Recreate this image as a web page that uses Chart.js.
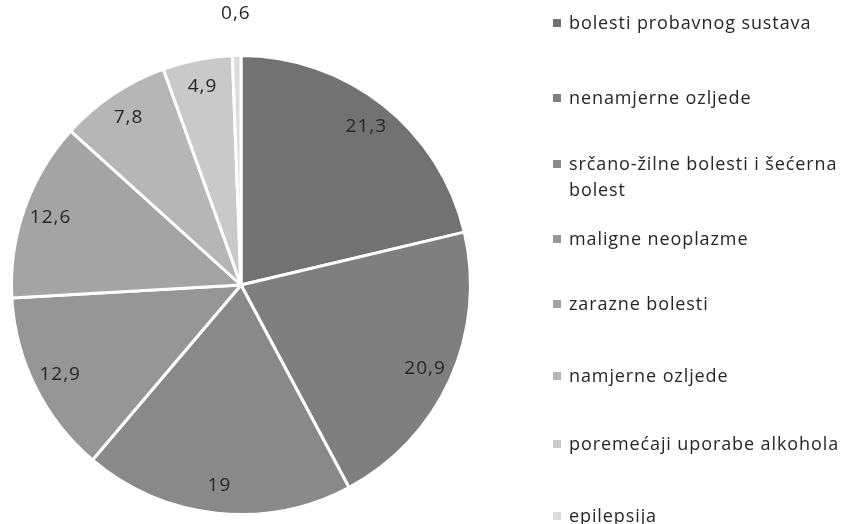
<!DOCTYPE html>
<html>
<head>
<meta charset="utf-8">
<script src="https://cdn.jsdelivr.net/npm/chart.js@4/dist/chart.umd.min.js"></script>
<style>
  html, body { margin: 0; padding: 0; background: #ffffff; }
  #wrap { position: relative; width: 846px; height: 524px; }
  #c { position: absolute; left: 0; top: 0; }
  #legend { position: absolute; left: 553px; top: 0; width: 293px; font-family: "Open Sans", sans-serif; font-size: 18px; letter-spacing: 0.9px; color: #262626; }
  .item { position: absolute; left: 0; display: flex; align-items: flex-start; line-height: 26px; }
  .sw { width: 8px; height: 8px; margin-top: 10px; margin-right: 8px; flex: 0 0 8px; }
</style>
</head>
<body>
<div id="wrap">
  <canvas id="c" width="846" height="524"></canvas>
  <div id="legend"></div>
</div>
<script>
const categories = [
  "bolesti probavnog sustava",
  "nenamjerne ozljede",
  "srčano-žilne bolesti i šećerna bolest",
  "maligne neoplazme",
  "zarazne bolesti",
  "namjerne ozljede",
  "poremećaji uporabe alkohola",
  "epilepsija"
];
const values = [21.3, 20.9, 19, 12.9, 12.6, 7.8, 4.9, 0.6];
const valueLabels = ["21,3", "20,9", "19", "12,9", "12,6", "7,8", "4,9", "0,6"];
const colors = ["#727272", "#7f7f7f", "#898989", "#969696", "#a4a4a4", "#b6b6b6", "#c9c9c9", "#dcdcdc"];

const labelPlugin = {
  id: 'valueLabels',
  afterDatasetsDraw(chart) {
    const ctx = chart.ctx;
    const meta = chart.getDatasetMeta(0);
    ctx.save();
    ctx.font = '19px "Open Sans", sans-serif';
    ctx.letterSpacing = '1px';
    ctx.fillStyle = '#262626';
    ctx.textAlign = 'center';
    ctx.textBaseline = 'middle';
    const total = values.reduce((a, b) => a + b, 0);
    meta.data.forEach((arc, i) => {
      const p = arc.getProps(['x', 'y', 'startAngle', 'endAngle', 'outerRadius'], true);
      const mid = (p.startAngle + p.endAngle) / 2;
      const share = values[i] / total;
      const r = share < 0.02 ? p.outerRadius + 42 : p.outerRadius * 0.88;
      ctx.fillText(valueLabels[i], p.x + Math.cos(mid) * r, p.y + Math.sin(mid) * r);
    });
    ctx.restore();
  }
};

new Chart(document.getElementById('c'), {
  type: 'pie',
  data: {
    labels: categories,
    datasets: [{
      data: values,
      backgroundColor: colors,
      borderColor: '#ffffff',
      borderWidth: 3
    }]
  },
  options: {
    responsive: false,
    animation: false,
    layout: { padding: { left: 10, right: 374, top: 54, bottom: 8 } },
    plugins: { legend: { display: false }, tooltip: { enabled: false } }
  },
  plugins: [labelPlugin]
});

const legendTops = [9, 84, 150, 225, 290, 362, 430, 502];
const lg = document.getElementById('legend');
categories.forEach((name, i) => {
  const d = document.createElement('div');
  d.className = 'item';
  d.style.top = legendTops[i] + 'px';
  const sw = document.createElement('span');
  sw.className = 'sw';
  sw.style.background = colors[i];
  const t = document.createElement('span');
  t.textContent = name;
  t.style.width = '272px';
  d.appendChild(sw); d.appendChild(t);
  lg.appendChild(d);
});
</script>
</body>
</html>
